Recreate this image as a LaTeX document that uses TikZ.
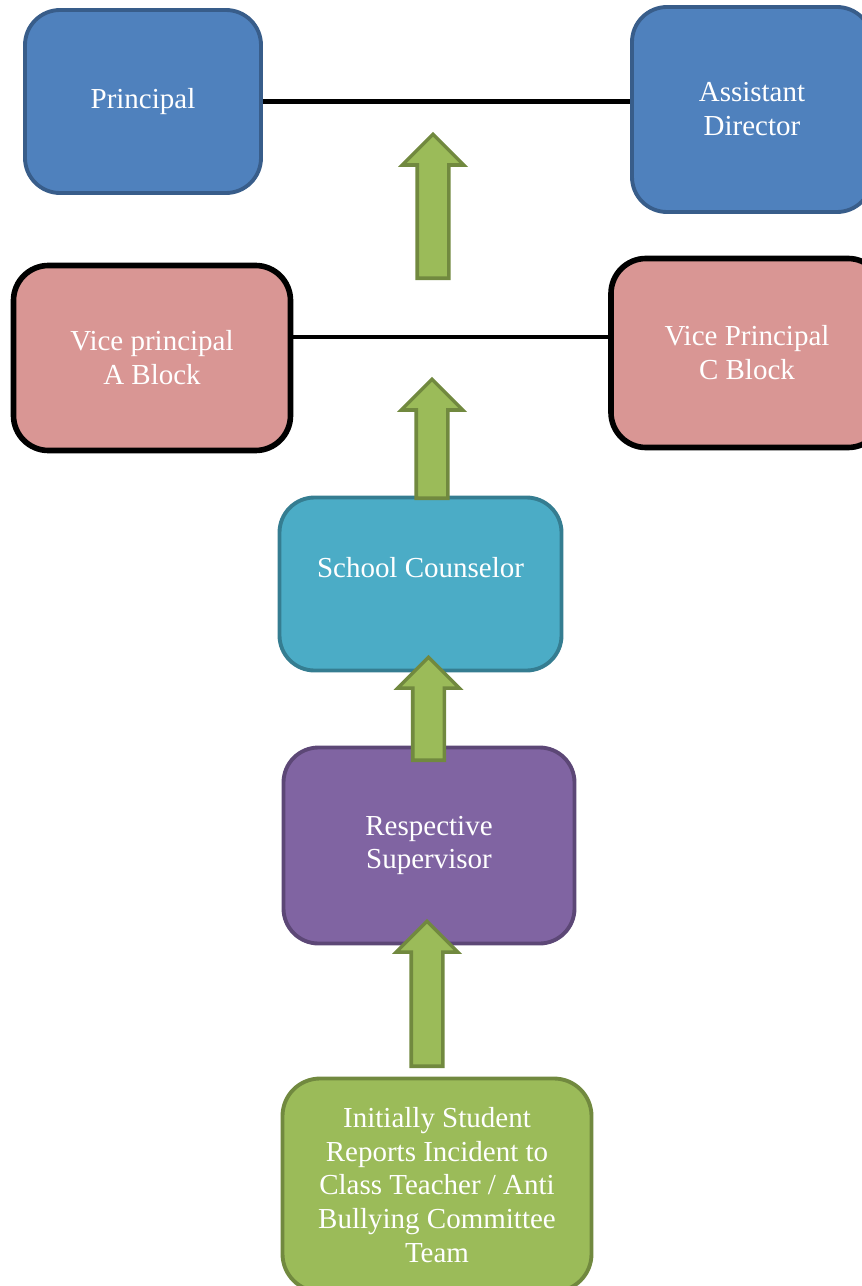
\documentclass[tikz,border=0pt]{standalone}
\usepackage{fontspec}
\setmainfont{Liberation Serif}
\usetikzlibrary{positioning,shapes.arrows,calc}
\definecolor{OrgBlue}{HTML}{4F81BD}
\definecolor{OrgBlueEdge}{HTML}{385D8A}
\definecolor{OrgRose}{HTML}{D99694}
\definecolor{OrgTeal}{HTML}{4BACC6}
\definecolor{OrgTealEdge}{HTML}{357D91}
\definecolor{OrgPurple}{HTML}{8064A2}
\definecolor{OrgPurpleEdge}{HTML}{5C4776}
\definecolor{OrgGreen}{HTML}{9BBB59}
\definecolor{OrgGreenEdge}{HTML}{71893F}

\begin{document}
\begin{tikzpicture}[
    box/.style 2 args={
      draw=#2,
      fill=#1,
      line width=2.2pt,
      rounded corners=0.7cm,
      text=white,
      align=center,
      inner sep=2pt,
      font=\fontsize{16.5}{19.3}\selectfont
    },
    climb/.style={
      single arrow,
      rotate=90,
      anchor=tail,
      draw=OrgGreenEdge,
      fill=OrgGreen,
      line width=2pt,
      inner xsep=0pt,
      inner ysep=0.28cm,
      single arrow head extend=0.3cm,
      single arrow head indent=0pt
    },
    link/.style={line width=2.6pt, draw=black}
  ]
  \useasboundingbox (0,0) rectangle (17.22,-25.72);

  % Top level
  \node[box={OrgBlue}{OrgBlueEdge}, minimum width=4.72cm, minimum height=3.66cm]
    (principal) at (2.86,-2.03) {Principal};
  \node[box={OrgBlue}{OrgBlueEdge}, minimum width=4.8cm, minimum height=4.1cm]
    (asstdir) at (15.04,-2.19) {Assistant\\Director};

  % Vice principals
  \node[box={OrgRose}{black}, line width=3.2pt, minimum width=5.54cm, minimum height=3.7cm]
    (vpa) at (3.04,-7.16) {Vice principal\\A Block};
  \node[box={OrgRose}{black}, line width=3.2pt, minimum width=5.44cm, minimum height=3.78cm]
    (vpc) at (14.94,-7.06) {Vice Principal\\C Block};

  % Lower chain
  \node[box={OrgTeal}{OrgTealEdge}, minimum width=5.64cm, minimum height=3.46cm, text depth=0.65cm]
    (counsel) at (8.41,-11.68) {School Counselor};
  \node[box={OrgPurple}{OrgPurpleEdge}, minimum width=5.82cm, minimum height=3.92cm]
    (supervisor) at (8.58,-16.91) {Respective\\Supervisor};
  \node[box={OrgGreen}{OrgGreenEdge}, minimum width=6.18cm, minimum height=4.26cm, rounded corners=0.75cm]
    (student) at (8.74,-23.70)
    {Initially Student\\Reports Incident to\\Class Teacher / Anti\\Bullying Committee\\Team};

  % Links
  \draw[link] (principal.east) -- (principal.east -| asstdir.west);
  \draw[link] ([yshift=0.42cm]vpa.east) -- ([yshift=0.42cm]vpa.east -| vpc.west);

  % Block arrows
  \node[climb, minimum height=2.88cm] (rise1) at (8.66,-5.6) {};
  \node[climb, minimum height=2.38cm] (rise2) at (8.64,-10.0) {};
  \node[climb, minimum height=2.06cm] (rise3) at (8.57,-15.24) {};
  \node[climb, minimum height=2.9cm] (rise4) at (8.54,-21.36) {};

\end{tikzpicture}
\end{document}
